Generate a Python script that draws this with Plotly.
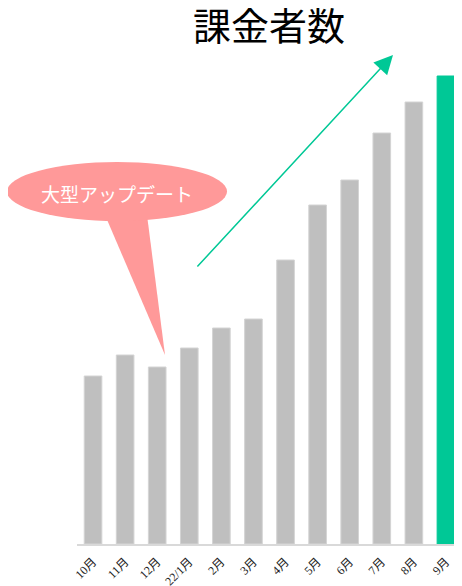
import plotly.graph_objects as go

months = ["10月", "11月", "12月", "22/1月", "2月", "3月", "4月", "5月", "6月", "7月", "8月", "9月"]
payers = [168, 189, 177, 196, 216, 225, 284, 339, 364, 411, 442, 468]

O = 8  # page body margin offset
W, H = 462 - O, 586 - O
L, R, T, B = 77 - O, 0, 60 - O, 42
PW, PH = W - L - R, H - T - B


def px(x):
    return (x - O - L) / PW


def py(y):
    return (H - B - (y - O)) / PH


gray = "#BFBFBF"
green = "#00C896"
pink = "#FF9999"

colors = [gray] * (len(months) - 1) + [green]
lines = ["#D4D4D4"] * (len(months) - 1) + [green]

fig = go.Figure(go.Bar(
    x=months, y=payers,
    marker=dict(color=colors, line=dict(color=lines, width=1)),
    width=0.55,
))

shapes = [
    dict(type="path", xref="paper", yref="paper",
         path=f"M {px(105)} {py(215)} L {px(147)} {py(215)} L {px(165)} {py(355)} Z",
         fillcolor=pink, line=dict(width=0), layer="above"),
    dict(type="circle", xref="paper", yref="paper",
         x0=px(7), x1=px(227), y0=py(221), y1=py(162),
         fillcolor=pink, line=dict(width=0), layer="above"),
]

annotations = [
    dict(text="大型アップデート", xref="paper", yref="paper", x=px(117), y=py(193),
         showarrow=False, font=dict(family="Noto Sans CJK JP", size=19, color="white"),
         xanchor="center", yanchor="middle"),
    dict(text="", xref="paper", yref="paper", x=px(393), y=py(55),
         ax=196 - 393, ay=268 - 55, axref="pixel", ayref="pixel",
         showarrow=True, arrowhead=2, arrowsize=2.5, arrowwidth=1.5, arrowcolor=green),
]

fig.update_layout(
    width=W, height=H,
    margin=dict(l=L, r=R, t=T, b=B, pad=0, autoexpand=False),
    paper_bgcolor="white", plot_bgcolor="white",
    showlegend=False,
    title=dict(text="課金者数", x=px(269), xref="paper", xanchor="center",
               y=1 - (27 - O) / H, yref="container", yanchor="middle",
               font=dict(family="Noto Sans CJK JP", size=38, color="black")),
    xaxis=dict(tickangle=-45, showline=True, linecolor="#D9D9D9", linewidth=2,
               showgrid=False, ticks="outside", ticklen=4, tickcolor="rgba(0,0,0,0)",
               automargin=False,
               tickfont=dict(family="Liberation Serif, Noto Sans CJK JP", size=12, color="#222222")),
    yaxis=dict(range=[0, PH], visible=False, showgrid=False),
    shapes=shapes,
    annotations=annotations,
)

fig.write_html("out.html")
